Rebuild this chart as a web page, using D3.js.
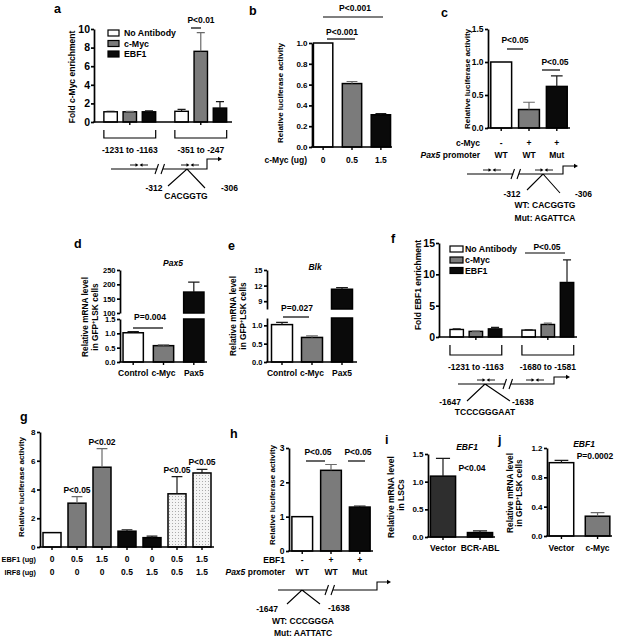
<!DOCTYPE html>
<html><head><meta charset="utf-8">
<script src="https://cdn.jsdelivr.net/npm/d3@7"></script>
<style>body{margin:0;background:#fff}svg{display:block}</style>
</head><body><svg id="chart" width="622" height="640"></svg>
<script>
// ---------------- DATA ----------------
const aSeries = ["No Antibody", "c-Myc", "EBF1"];
const aRegions = ["-1231 to -1163", "-351 to -247"];
const aValues = [[1.1, 1.1, 1.1], [1.15, 7.6, 1.5]];
const aErrors = [[0.05, 0.05, 0.1], [0.2, 2.0, 0.7]];
const aTicks = [0, 2, 4, 6, 8, 10];

const bDoses = ["0", "0.5", "1.5"];
const bValues = [1.0, 0.61, 0.31];
const bErrors = [0, 0.02, 0.01];
const bTicks = [0, 0.2, 0.4, 0.6, 0.8, 1.0];

const cMyc = ["-", "+", "+"];
const cPromoter = ["WT", "WT", "Mut"];
const cValues = [1.0, 0.28, 0.63];
const cErrors = [0, 0.11, 0.16];
const cTicks = [0, 0.5, 1.0, 1.5];

const dCats = ["Control", "c-Myc", "Pax5"];
const dValues = [1.02, 0.57, 173];
const dErrors = [0.04, 0.03, 35];
const dTicksLow = [0, 0.5, 1.0, 1.5];
const dTicksHigh = [100, 150, 200, 250];

const eCats = ["Control", "c-Myc", "Pax5"];
const eValues = [1.02, 0.67, 11.3];
const eErrors = [0.06, 0.04, 0.3];
const eTicksLow = [0, 0.5, 1.0];
const eTicksHigh = [9, 12, 15];

const fSeries = ["No Antibody", "c-Myc", "EBF1"];
const fRegions = ["-1231 to -1163", "-1680 to -1581"];
const fValues = [[1.2, 0.9, 1.3], [1.1, 2.0, 8.7]];
const fErrors = [[0.1, 0.05, 0.25], [0.05, 0.2, 3.6]];
const fTicks = [0, 5, 10, 15];

const gEBF1 = ["0", "0.5", "1.5", "0", "0", "0.5", "1.5"];
const gIRF8 = ["0", "0", "0", "0.5", "1.5", "0.5", "1.5"];
const gValues = [1.0, 3.05, 5.55, 1.1, 0.65, 3.7, 5.15];
const gErrors = [0, 0.45, 1.3, 0.1, 0.1, 1.2, 0.25];
const gPvals = [null, "P<0.05", "P<0.02", null, null, "P<0.05", "P<0.05"];
const gTicks = [0, 2, 4, 6, 8];

const hEBF1 = ["-", "+", "+"];
const hPromoter = ["WT", "WT", "Mut"];
const hValues = [1.0, 2.35, 1.28];
const hErrors = [0, 0.17, 0.03];
const hTicks = [0, 1, 2, 3];

const iCats = ["Vector", "BCR-ABL"];
const iValues = [1.1, 0.08];
const iErrors = [0.32, 0.03];
const iTicks = [0, 0.5, 1.0, 1.5];

const jCats = ["Vector", "c-Myc"];
const jValues = [1.0, 0.27];
const jErrors = [0.03, 0.05];
const jTicks = [0, 0.4, 0.8, 1.2];

// ---------------- STYLE ----------------
const SANS = '"Liberation Sans", Arial, sans-serif';
const WHITE = "#ffffff", GREY = "#7b7b7b", BLACK = "#0a0a0a", DARK = "#2e2e2e";
const svg = d3.select("#chart");
const marks = svg.append("g").attr("class", "marks");
const labels = svg.append("g").attr("class", "labels");

const defs = svg.append("defs");
const pat = defs.append("pattern").attr("id", "dots").attr("patternUnits", "userSpaceOnUse")
  .attr("width", 3).attr("height", 3);
pat.append("rect").attr("width", 3).attr("height", 3).attr("fill", "#f4f4f4");
pat.append("rect").attr("x", 1).attr("y", 1).attr("width", 0.9).attr("height", 0.9).attr("fill", "#9a9a9a");
const DOTS = "url(#dots)";

function T(x, y, s, o = {}) {
  const size = o.size || 8.5;
  const t = labels.append("text").attr("x", x).attr("y", y)
    .attr("font-size", size).attr("text-anchor", o.anchor || "middle")
    .attr("font-family", SANS).attr("font-weight", "bold").attr("fill", "#000");
  if (o.italic) t.attr("font-style", "italic");
  if (o.rot) t.attr("transform", `rotate(-90,${x},${y})`);
  if (Array.isArray(s)) {
    s.forEach(p => {
      const ts = t.append("tspan").text(p.t);
      if (p.i) ts.attr("font-style", "italic");
      if (p.sup) ts.attr("baseline-shift", "super").attr("font-size", size * 0.65);
    });
  } else t.text(s);
  return t;
}
function L(x1, y1, x2, y2, w = 1.2) {
  marks.append("line").attr("x1", x1).attr("y1", y1).attr("x2", x2).attr("y2", y2)
    .attr("stroke", "#000").attr("stroke-width", w);
}
function yAxis(scale, x, ticks, fmt, o = {}) {
  const tk = o.tick || 3, pad = o.pad == null ? 1.5 : o.pad, size = o.size || 8.5;
  const g = labels.append("g").attr("transform", `translate(${x},0)`)
    .call(d3.axisLeft(scale).tickValues(ticks).tickFormat(fmt).tickSize(tk).tickSizeOuter(0).tickPadding(pad));
  g.selectAll("path, line").attr("stroke", "#000").attr("stroke-width", o.sw || 1.7);
  g.attr("font-family", SANS).attr("font-size", size).attr("font-weight", "bold");
  g.selectAll("text").attr("fill", "#000").attr("font-family", SANS)
    .attr("font-size", size).attr("font-weight", "bold").attr("opacity", 1);
  return g;
}
function xAxis(x, y, centers) {
  const r = x.range();
  L(r[0] - 0.8, y, r[1], y, 1.7);
  centers.forEach(c => L(c, y, c, y + 3, 1.4));
}
function errBar(cx, y1, y2, cw, col) {
  marks.append("path").attr("d", `M${cx},${y1}V${y2}M${cx - cw},${y2}H${cx + cw}`)
    .attr("stroke", col).attr("stroke-width", 1.2).attr("fill", "none");
}
function errColor(f) { return f === GREY ? "#6a6a6a" : "#1a1a1a"; }
function simpleBars(x, y, vals, errs, fills, capFrac = 0.28) {
  const idx = d3.range(vals.length);
  marks.append("g").selectAll("rect").data(idx).join("rect")
    .attr("x", i => x(i)).attr("width", x.bandwidth())
    .attr("y", i => y(vals[i])).attr("height", i => y(0) - y(vals[i]))
    .attr("fill", i => fills[i]).attr("stroke", "#000").attr("stroke-width", 1.5);
  idx.filter(i => errs[i] > 0).forEach(i => {
    const cx = x(i) + x.bandwidth() / 2;
    errBar(cx, y(vals[i]), y(vals[i] + errs[i]), x.bandwidth() * capFrac, errColor(fills[i]));
  });
  return idx.map(i => x(i) + x.bandwidth() / 2);
}
function groupedBars(xo, xi, y, vals, errs, fills) {
  vals.forEach((row, gI) => {
    marks.append("g").selectAll("rect").data(row).join("rect")
      .attr("x", (v, s) => xo(gI) + xi(s)).attr("width", xi.bandwidth())
      .attr("y", v => y(v)).attr("height", v => y(0) - y(v))
      .attr("fill", (v, s) => fills[s]).attr("stroke", "#000").attr("stroke-width", 1.4);
    row.forEach((v, s) => {
      if (errs[gI][s] > 0) errBar(xo(gI) + xi(s) + xi.bandwidth() / 2, y(v), y(v + errs[gI][s]),
        xi.bandwidth() * 0.3, errColor(fills[s]));
    });
  });
}
function legend(x, ys, names, fills, w, h, tx, size) {
  names.forEach((n, i) => {
    marks.append("rect").attr("x", x).attr("y", ys[i] - h / 2).attr("width", w).attr("height", h)
      .attr("fill", fills[i]).attr("stroke", "#000").attr("stroke-width", 1.2);
    T(tx, ys[i] + size * 0.36, n, { anchor: "start", size });
  });
}
function bracket(x0, x1, yT, yB) {
  marks.append("path").attr("d", `M${x0},${yT}V${yB}H${x1}V${yT}`)
    .attr("stroke", "#000").attr("stroke-width", 1.2).attr("fill", "none");
}
function head(x, y, dir, len = 3.2, hw = 2) {
  marks.append("path").attr("d", `M${x},${y}L${x - dir * len},${y - hw}L${x - dir * len},${y + hw}Z`).attr("fill", "#000");
}
function diagram(o) {
  const p = d3.path();
  p.moveTo(o.x0, o.y); p.lineTo(o.brk - 2.5, o.y);
  p.moveTo(o.brk + 2.5, o.y); p.lineTo(o.tss, o.y); p.lineTo(o.tss, o.y - o.tssH); p.lineTo(o.tssEnd - 2, o.y - o.tssH);
  p.moveTo(o.brk - 5, o.y + 5); p.lineTo(o.brk - 1.5, o.y - 5);
  p.moveTo(o.brk + 1, o.y + 5); p.lineTo(o.brk + 4.5, o.y - 5);
  if (o.v) { p.moveTo(o.v[0], o.v[1]); p.lineTo(o.v[2], o.y); p.lineTo(o.v[3], o.v[4]); }
  marks.append("path").attr("d", p.toString()).attr("stroke", "#000").attr("stroke-width", 1.1).attr("fill", "none");
  head(o.tssEnd, o.y - o.tssH, 1, 4, 2.2);
  (o.pairs || []).forEach(cx => {
    const yy = o.y - 4;
    L(cx - 9, yy, cx - 2, yy, 0.9); head(cx - 0.5, yy, 1, 3, 1.8);
    L(cx + 9, yy, cx + 2, yy, 0.9); head(cx + 0.5, yy, -1, 3, 1.8);
  });
}
const SMALL = { size: 8, tick: 3, pad: 1.5 };

// ---------------- PANEL a ----------------
T(54, 13, "a", { anchor: "start", size: 12.5 });
const aY = d3.scaleLinear().domain([0, 10]).range([122, 29]);
const aXo = d3.scaleBand().domain(d3.range(aRegions.length)).range([94, 232]).paddingInner(0.27).paddingOuter(0.107).align(0.65);
const aXi = d3.scaleBand().domain(d3.range(aSeries.length)).range([0, aXo.bandwidth()]).paddingInner(0.3);
groupedBars(aXo, aXi, aY, aValues, aErrors, [WHITE, GREY, BLACK]);
yAxis(aY, 94, aTicks, d3.format("d"), { size: 10.5, tick: 3, pad: 1 });
xAxis(aXo, 122, d3.range(2).map(g => aXo(g) + aXo.bandwidth() / 2));
T(75, 77, "Fold c-Myc enrichment", { rot: true, size: 8.5 });
legend(108, [33, 43.5, 54], aSeries, [WHITE, GREY, BLACK], 11, 6, 124, 8.8);
T(201, 23, "P<0.01", { size: 8.5 }); L(191, 28, 201, 28);
aRegions.forEach((r, g) => {
  bracket(aXo(g), aXo(g) + aXo.bandwidth(), 130, 138);
  T(aXo(g) + aXo.bandwidth() / 2, 153, r, { size: 8.5 });
});
diagram({ x0: 111, y: 169, brk: 160, tss: 207, tssH: 10, tssEnd: 222, pairs: [139, 190], v: [168, 186, 187, 205, 188] });
T(154, 191, "-312", { size: 8.5 }); T(221, 191, "-306", { anchor: "start", size: 8.5 });
T(186, 199, "CACGGTG", { size: 8.5 });

// ---------------- PANEL b ----------------
T(249, 15, "b", { anchor: "start", size: 12.5 });
const bY = d3.scaleLinear().domain([0, 1]).range([147, 43]);
const bX = d3.scaleBand().domain(d3.range(bValues.length)).range([312, 392]).paddingInner(0.33).paddingOuter(0.05);
const bC = simpleBars(bX, bY, bValues, bErrors, [WHITE, GREY, BLACK]);
yAxis(bY, 312, bTicks, d3.format(".1f"), SMALL);
xAxis(bX, 147, bC);
T(283, 93, "Relative luciferase activity", { rot: true, size: 8 });
T(307, 163, "c-Myc (ug)", { anchor: "end", size: 8.5 });
bDoses.forEach((d, i) => T(bC[i], 163, d, { size: 8.5 }));
T(355, 11, "P<0.001", { size: 8.5 }); L(323, 17, 383, 17);
T(342, 35, "P<0.001", { size: 8.5 }); L(327, 39, 355, 39);

// ---------------- PANEL c ----------------
T(441, 17, "c", { anchor: "start", size: 12.5 });
const cY = d3.scaleLinear().domain([0, 1.5]).range([128, 29]);
const cX = d3.scaleBand().domain(d3.range(cValues.length)).range([488, 570]).paddingInner(0.25).paddingOuter(0.1);
const cC = simpleBars(cX, cY, cValues, cErrors, [WHITE, GREY, BLACK]);
yAxis(cY, 488, cTicks, d3.format(".1f"), { size: 8.5, tick: 3 });
xAxis(cX, 128, cC);
T(470, 79, "Relative luciferase activity", { rot: true, size: 8 });
T(515, 43, "P<0.05"); L(507, 49, 523, 49);
T(555, 65, "P<0.05"); L(542, 70, 560, 70);
T(480, 146, "c-Myc", { anchor: "end" });
T(480, 158, [{ t: "Pax5", i: true }, { t: " promoter" }], { anchor: "end" });
cMyc.forEach((d, i) => T(cC[i], 146, d));
cPromoter.forEach((d, i) => T(cC[i], 158, d));
diagram({ x0: 467, y: 174, brk: 516, tss: 563, tssH: 8, tssEnd: 578, pairs: [492, 544], v: [527, 190, 543, 560, 193] });
T(512, 197, "-312"); T(575, 197, "-306", { anchor: "start" });
T(545, 208, "WT: CACGGTG"); T(545, 221, "Mut: AGATTCA");

// ---------------- PANEL d ----------------
T(74, 248, "d", { anchor: "start", size: 12.5 });
const dYl = d3.scaleLinear().domain([0, 1.5]).range([362, 319]);
const dYh = d3.scaleLinear().domain([100, 250]).range([313, 270]);
const dX = d3.scaleBand().domain(d3.range(dValues.length)).range([120, 207]).paddingInner(0.33).paddingOuter(0.1);
function brokenBars(x, yl, yh, vals, errs, fills) {
  const lowMax = yl.domain()[1], highMin = yh.domain()[0];
  const centers = [];
  vals.forEach((v, i) => {
    const cx = x(i) + x.bandwidth() / 2; centers.push(cx);
    if (v <= lowMax) {
      marks.append("rect").attr("x", x(i)).attr("width", x.bandwidth()).attr("y", yl(v)).attr("height", yl(0) - yl(v))
        .attr("fill", fills[i]).attr("stroke", "#000").attr("stroke-width", 1.5);
      errBar(cx, yl(v), yl(v + errs[i]), x.bandwidth() * 0.28, errColor(fills[i]));
    } else {
      marks.append("rect").attr("x", x(i)).attr("width", x.bandwidth()).attr("y", yl(lowMax)).attr("height", yl(0) - yl(lowMax))
        .attr("fill", fills[i]).attr("stroke", "#000").attr("stroke-width", 1.5);
      marks.append("rect").attr("x", x(i)).attr("width", x.bandwidth()).attr("y", yh(v)).attr("height", yh(highMin) - yh(v))
        .attr("fill", fills[i]).attr("stroke", "#000").attr("stroke-width", 1.5);
      errBar(cx, yh(v), yh(v + errs[i]), x.bandwidth() * 0.28, errColor(fills[i]));
    }
  });
  return centers;
}
const dC = brokenBars(dX, dYl, dYh, dValues, dErrors, [WHITE, GREY, BLACK]);
yAxis(dYl, 120, dTicksLow, d3.format(".1f"), { ...SMALL, size: 7.5 });
yAxis(dYh, 120, dTicksHigh, d3.format("d"), { ...SMALL, size: 7.5 });
xAxis(dX, 362, dC);
T(173, 266, "Pax5", { italic: true });
T(88, 317, "Relative mRNA level", { rot: true, size: 8.3 });
T(97.5, 317, [{ t: "in GFP" }, { t: "+", sup: true }, { t: "LSK cells" }], { rot: true, size: 8.3 });
T(150, 320, "P=0.004"); L(133, 328, 163, 328);
dCats.forEach((c, i) => T(dC[i], 376, c));

// ---------------- PANEL e ----------------
T(228, 250, "e", { anchor: "start", size: 12.5 });
const eYl = d3.scaleLinear().domain([0, 1.2]).range([362, 318]);
const eYh = d3.scaleLinear().domain([7.5, 15]).range([309, 270]);
const eX = d3.scaleBand().domain(d3.range(eValues.length)).range([267, 357]).paddingInner(0.3).paddingOuter(0.15);
const eC = brokenBars(eX, eYl, eYh, eValues, eErrors, [WHITE, GREY, BLACK]);
yAxis(eYl, 267, eTicksLow, d3.format(".1f"), { ...SMALL, size: 7.5 });
yAxis(eYh, 267, eTicksHigh, d3.format("d"), { ...SMALL, size: 7.5 });
xAxis(eX, 362, eC);
T(315, 270, "Blk", { italic: true });
T(236, 316, "Relative mRNA level", { rot: true, size: 8.3 });
T(245.5, 316, [{ t: "in GFP" }, { t: "+", sup: true }, { t: "LSK cells" }], { rot: true, size: 8.3 });
T(297, 311, "P=0.027"); L(283, 317, 309, 317);
eCats.forEach((c, i) => T(eC[i], 376, c));

// ---------------- PANEL f ----------------
T(391, 243, "f", { anchor: "start", size: 12.5 });
const fY = d3.scaleLinear().domain([0, 15]).range([337, 243]);
const fXo = d3.scaleBand().domain(d3.range(fRegions.length)).range([439, 577]).paddingInner(0.28).paddingOuter(0.099).align(0.77);
const fXi = d3.scaleBand().domain(d3.range(fSeries.length)).range([0, fXo.bandwidth()]).paddingInner(0.3);
groupedBars(fXo, fXi, fY, fValues, fErrors, [WHITE, GREY, BLACK]);
yAxis(fY, 439, fTicks, d3.format("d"), { size: 10.5, tick: 3, pad: 1 });
xAxis(fXo, 337, d3.range(2).map(g => fXo(g) + fXo.bandwidth() / 2));
T(421, 285, "Fold EBF1 enrichment", { rot: true });
legend(450, [249, 260, 270.5], fSeries, [WHITE, GREY, BLACK], 13, 6, 465, 8.8);
T(547, 250, "P<0.05"); L(525, 253, 565, 253);
fRegions.forEach((r, g) => {
  bracket(fXo(g), fXo(g) + fXo.bandwidth(), 345, 355);
  T(fXo(g) + fXo.bandwidth() / 2, 370, r);
});
diagram({ x0: 458, y: 384, brk: 508, tss: 554, tssH: 7, tssEnd: 570, pairs: [486, 535], v: [467, 401, 485, 510, 401] });
T(450, 405, "-1647"); T(512, 405, "-1638", { anchor: "start" });
T(485, 415, "TCCCGGGAAT");

// ---------------- PANEL g ----------------
T(20, 421, "g", { anchor: "start", size: 12.5 });
const gY = d3.scaleLinear().domain([0, 8]).range([547, 432]);
const gX = d3.scaleBand().domain(d3.range(gValues.length)).range([40, 214]).paddingInner(0.28).paddingOuter(0.12);
const gFills = [WHITE, GREY, GREY, BLACK, BLACK, DOTS, DOTS];
const gC = simpleBars(gX, gY, gValues, gErrors, gFills, 0.3);
yAxis(gY, 40, gTicks, d3.format("d"), SMALL);
xAxis(gX, 547, gC);
T(24, 487, "Relative luciferase activity", { rot: true, size: 8 });
gPvals.forEach((p, i) => { if (p) T(gC[i], gY(gValues[i] + gErrors[i]) - 4, p); });
T(36, 562, "EBF1 (ug)", { anchor: "end", size: 7.3 });
T(36, 575, "IRF8 (ug)", { anchor: "end", size: 7.3 });
gEBF1.forEach((d, i) => T(gC[i], 562, d));
gIRF8.forEach((d, i) => T(gC[i], 575, d));

// ---------------- PANEL h ----------------
T(230, 438, "h", { anchor: "start", size: 12.5 });
const hY = d3.scaleLinear().domain([0, 3]).range([551, 448]);
const hX = d3.scaleBand().domain(d3.range(hValues.length)).range([289, 373]).paddingInner(0.28).paddingOuter(0.1);
const hC = simpleBars(hX, hY, hValues, hErrors, [WHITE, GREY, BLACK]);
yAxis(hY, 289, hTicks, d3.format("d"), { size: 8.5, tick: 3 });
xAxis(hX, 551, hC);
T(275, 495, "Relative luciferase activity", { rot: true, size: 8 });
T(318, 455, "P<0.05"); L(306, 461, 325, 461);
T(358, 455, "P<0.05"); L(348, 461, 365, 461);
T(285, 563, "EBF1", { anchor: "end" });
T(285, 575, [{ t: "Pax5", i: true }, { t: " promoter" }], { anchor: "end" });
hEBF1.forEach((d, i) => T(hC[i], 563, d));
hPromoter.forEach((d, i) => T(hC[i], 575, d));
diagram({ x0: 278, y: 590, brk: 330, tss: 377, tssH: 8, tssEnd: 391, pairs: [], v: [287, 604, 302, 320, 604] });
T(267, 612, "-1647"); T(328, 611, "-1638", { anchor: "start" });
T(303, 624, "WT: CCCGGGA"); T(303, 636, "Mut: AATTATC");

// ---------------- PANEL i ----------------
T(385, 444, "i", { anchor: "start", size: 12.5 });
const iY = d3.scaleLinear().domain([0, 1.5]).range([537, 454]);
const iX = d3.scaleBand().domain(d3.range(iValues.length)).range([428, 495]).paddingInner(0.32).paddingOuter(0.065);
const iC = simpleBars(iX, iY, iValues, iErrors, [DARK, BLACK]);
yAxis(iY, 428, iTicks, d3.format(".1f"), SMALL);
xAxis(iX, 537, iC);
T(394, 497, "Relative mRNA level", { rot: true });
T(404, 495, "in LSCs", { rot: true });
T(467, 450, "EBF1", { italic: true });
T(472, 471, "P<0.04");
iCats.forEach((c, i) => T(iC[i], 551, c));

// ---------------- PANEL j ----------------
T(498, 444, "j", { anchor: "start", size: 12.5 });
const jY = d3.scaleLinear().domain([0, 1.2]).range([536, 448]);
const jX = d3.scaleBand().domain(d3.range(jValues.length)).range([547, 612]).paddingInner(0.32).paddingOuter(0.06);
const jC = simpleBars(jX, jY, jValues, jErrors, [WHITE, GREY]);
yAxis(jY, 547, jTicks, d3.format(".1f"), SMALL);
xAxis(jX, 536, jC);
T(513, 493, "Relative mRNA level", { rot: true, size: 8.3 });
T(522, 493, [{ t: "in GFP" }, { t: "+", sup: true }, { t: "LSK cells" }], { rot: true, size: 8.3 });
T(584, 447, "EBF1", { italic: true });
T(595, 459, "P=0.0002");
jCats.forEach((c, i) => T(jC[i], 551, c));
</script></body></html>
